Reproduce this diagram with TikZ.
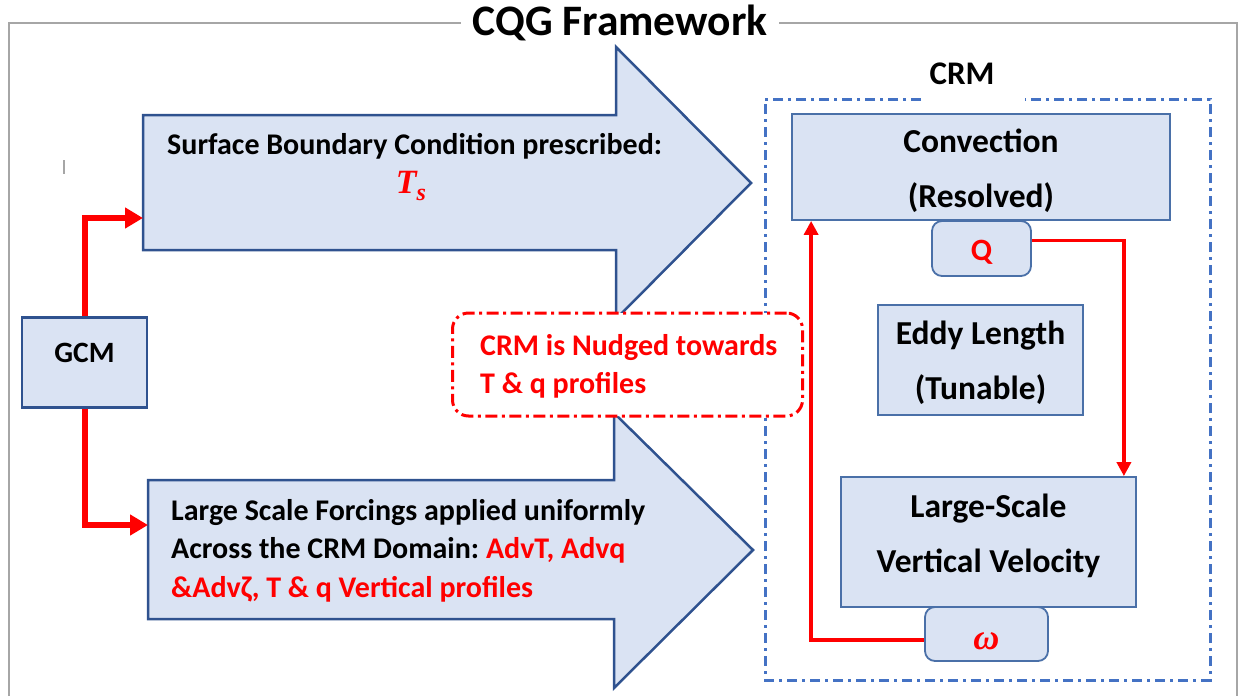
\documentclass[tikz,border=0pt]{standalone}
\usepackage{fontspec}
\setmainfont{Carlito}
\newfontfamily\mathlike{Liberation Serif}
\usetikzlibrary{arrows.meta,calc}
\definecolor{bfill}{HTML}{DAE3F3}
\definecolor{bdark}{HTML}{2F528F}
\definecolor{bmid}{HTML}{4A70A8}
\definecolor{crmblue}{HTML}{4472C4}
\definecolor{framegray}{HTML}{A6A6A6}
\begin{document}
\begin{tikzpicture}[x=1pt,y=-1pt,
  arrowshape/.style={fill=bfill, draw=bdark, line width=2.5pt, line join=miter},
  rbox/.style={fill=bfill, draw=bmid, line width=1.8pt, inner sep=0},
  rtxt/.style={font=\bfseries\fontsize{33.5}{55}\selectfont, align=center, inner sep=0},
  ltxt/.style={font=\bfseries\fontsize{30}{38}\selectfont, anchor=base west, inner sep=0},
  rconn/.style={draw=red, line width=3.5pt, -{Triangle[length=14pt,width=14pt]}},
  lconn/.style={draw=red, line width=6pt, -{Triangle[length=18pt,width=20pt]}},
  crmframe/.style={draw=crmblue, line width=3pt, dash pattern=on 10pt off 5pt on 3pt off 5pt},
  nudgebox/.style={draw=red, fill=white, line width=3pt, rounded corners=16pt,
    dash pattern=on 12pt off 4.5pt on 3pt off 4.5pt, inner sep=0}
]
\useasboundingbox (0,0) rectangle (1238,696);
% outer frame
\draw[framegray, line width=2pt] (9,696) -- (9,23) -- (1237,23) -- (1237,696);
\node[font=\bfseries\fontsize{43.5}{50}\selectfont, fill=white, inner xsep=12pt, inner ysep=0pt] (title) at (620,23) {CQG Framework};
\draw[framegray, line width=2pt] (64,160) -- (64,174);
% big arrows
\draw[arrowshape] (143,115) -- (616,115) -- (616,47) -- (751,183) -- (616,319) -- (616,250) -- (143,250) -- cycle;
\coordinate (topL) at (143,218);
\draw[arrowshape] (148,480) -- (614,480) -- (614,413) -- (753,550) -- (614,688) -- (614,619) -- (148,619) -- cycle;
\coordinate (botL) at (148,525);
% arrow texts
\node[ltxt] (surf) at (167,154) {Surface Boundary Condition prescribed:};
\node[text=red, inner sep=0, font=\mathlike\bfseries\itshape\fontsize{34}{36}\selectfont] (ts) at (411,186) {T\raisebox{-7pt}{\fontsize{24}{26}\selectfont s}};
\node[ltxt] (ls1) at (171,520) {Large Scale Forcings applied uniformly};
\node[ltxt] (ls2) at (171,558) {Across the CRM Domain:\ \textcolor{red}{AdvT, Advq}};
\node[ltxt, text=red] (ls3) at (171,597) {\&Advζ, T \& q Vertical profiles};
% GCM
\node[rbox, draw=bdark, line width=2.5pt, minimum width=125pt, minimum height=90pt] (gcm) at (84.5,362.5) {};
\node[font=\bfseries\fontsize{29.5}{34}\selectfont, inner sep=0] (gcmtxt) at (84.5,353) {GCM};
\draw[lconn] (gcm.north) |- (topL);
\draw[lconn] (gcm.south) |- (botL);
% CRM container
\node[font=\bfseries\fontsize{33}{36}\selectfont, inner sep=0] (crmlabel) at (962,74) {CRM};
\draw[crmframe] (921,99) -- (765,99) -- (765,680) -- (1210,680) -- (1210,99) -- (1025,99);
% nudge box
\node[nudgebox, minimum width=350pt, minimum height=103pt] (nudge) at (627.5,364.5) {};
\node[ltxt, text=red] (nud1) at (480,355) {CRM is Nudged towards};
\node[ltxt, text=red] (nud2) at (480,393) {T \& q profiles};
% right boxes
\node[rbox, minimum width=378pt, minimum height=106pt] (conv) at (981,167) {};
\node[rtxt] (convtxt) at (981,171) {Convection\\(Resolved)};
\node[rbox, rounded corners=10pt, minimum width=99pt, minimum height=55pt] (q) at (981.5,248.5) {};
\node[text=red, font=\bfseries\fontsize{31}{34}\selectfont, inner sep=0] (qtxt) at (981.5,252) {Q};
\node[rbox, minimum width=205pt, minimum height=110pt] (eddy) at (980.5,360) {};
\node[rtxt] (eddytxt) at (980.5,363) {Eddy Length\\(Tunable)};
\node[rbox, minimum width=295pt, minimum height=130pt] (ls) at (988.5,542) {};
\node[rtxt] (lstxt) at (988.5,536) {Large-Scale\\Vertical Velocity};
\node[rbox, rounded corners=10pt, minimum width=123pt, minimum height=54pt] (om) at (986.5,634) {};
\node[text=red, inner sep=0, font=\mathlike\bfseries\itshape\fontsize{36}{38}\selectfont] (omtxt) at (986.5,641) {ω};
% feedback connectors
\draw[rconn] ($(q.east)+(0,-8)$) -| ($(ls.north east)+(-13,0)$);
\draw[rconn] ($(om.west)+(0,6)$) -| ($(conv.south west)+(20,0)$);
\end{tikzpicture}
\end{document}
